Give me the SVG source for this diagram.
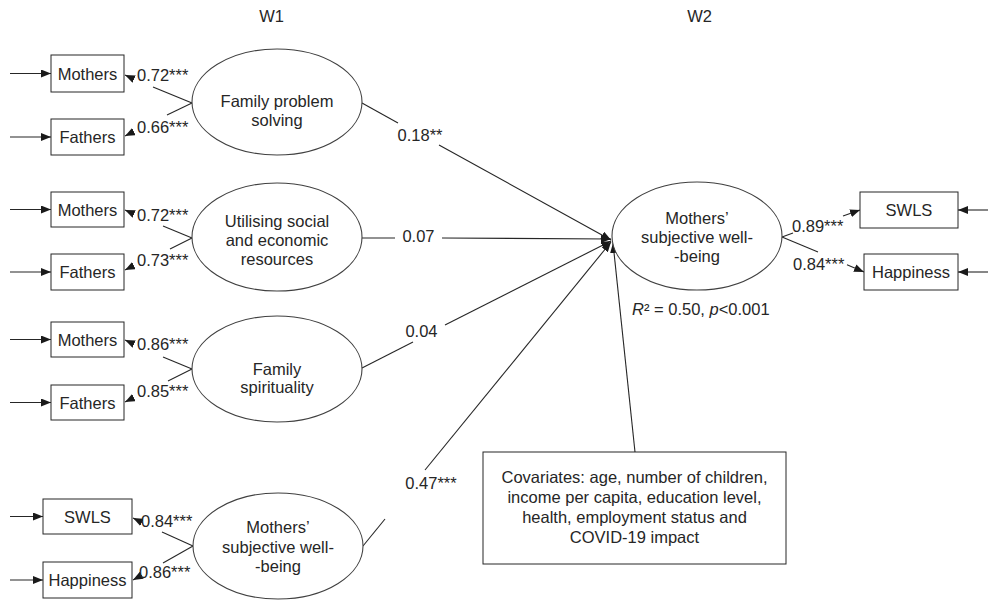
<svg xmlns="http://www.w3.org/2000/svg" width="988" height="600" viewBox="0 0 988 600">
<style>
text{font-family:"Liberation Sans",Arial,sans-serif;font-size:16.5px;fill:#262626}
.c{text-anchor:middle}
.box{fill:#fff;stroke:#262626;stroke-width:1}
.ell{fill:#fff;stroke:#404040;stroke-width:1.1}
.ln{stroke:#262626;stroke-width:1.1;fill:none}
.ar{stroke:#262626;stroke-width:1.1;fill:none;marker-end:url(#ah)}
</style>
<defs>
<marker id="ah" markerUnits="userSpaceOnUse" markerWidth="10" markerHeight="8" refX="10" refY="4" orient="auto">
<path d="M0,0 L10,4 L0,8 z" fill="#1a1a1a"/>
</marker>
</defs>
<rect width="988" height="600" fill="#fff"/>
<text class="c" x="271.5" y="22">W1</text>
<text class="c" x="699.5" y="22">W2</text>

<g id="connectors">
<line class="ar" x1="10" y1="73.5" x2="51" y2="73.5"/>
<line class="ar" x1="10" y1="137" x2="51" y2="137"/>
<line class="ar" x1="10" y1="209.5" x2="51" y2="209.5"/>
<line class="ar" x1="10" y1="272" x2="51" y2="272"/>
<line class="ar" x1="10" y1="339.5" x2="51" y2="339.5"/>
<line class="ar" x1="10" y1="402.5" x2="51" y2="402.5"/>
<line class="ar" x1="10" y1="516.5" x2="43" y2="516.5"/>
<line class="ar" x1="10" y1="580" x2="43" y2="580"/>
<line class="ar" x1="988" y1="210" x2="958" y2="210"/>
<line class="ar" x1="988" y1="272" x2="958" y2="272"/>
<line class="ln" x1="192" y1="103" x2="153" y2="87"/>
<line class="ar" x1="134" y1="79" x2="125" y2="75"/>
<line class="ln" x1="192" y1="103" x2="167" y2="115"/>
<line class="ar" x1="133" y1="132" x2="125" y2="136"/>
<line class="ln" x1="192" y1="238" x2="163" y2="226"/>
<line class="ar" x1="133" y1="213.5" x2="125" y2="210"/>
<line class="ln" x1="192" y1="238" x2="170" y2="249"/>
<line class="ar" x1="133" y1="266" x2="125" y2="270"/>
<line class="ln" x1="192" y1="369" x2="163" y2="357"/>
<line class="ar" x1="133" y1="343.6" x2="125" y2="340"/>
<line class="ln" x1="192" y1="369" x2="168" y2="381"/>
<line class="ar" x1="133" y1="398" x2="125" y2="402"/>
<line class="ln" x1="193" y1="546" x2="162" y2="532"/>
<line class="ar" x1="141" y1="521.8" x2="133" y2="518"/>
<line class="ln" x1="193" y1="546" x2="163" y2="563"/>
<line class="ar" x1="141" y1="575.6" x2="133" y2="580"/>
<text x="137" y="80.5">0.72***</text>
<text x="137" y="133">0.66***</text>
<text x="137" y="221">0.72***</text>
<text x="137" y="266">0.73***</text>
<text x="137" y="350">0.86***</text>
<text x="137" y="397">0.85***</text>
<text x="141" y="527">0.84***</text>
<text x="139" y="578">0.86***</text>
<line class="ln" x1="362" y1="103" x2="398" y2="123"/>
<line class="ar" x1="439" y1="145" x2="611" y2="240"/>
<text class="c" x="420" y="141">0.18**</text>
<line class="ln" x1="362" y1="238" x2="395" y2="238"/>
<line class="ar" x1="442" y1="238" x2="611" y2="239"/>
<text class="c" x="418.5" y="242">0.07</text>
<line class="ln" x1="362" y1="368" x2="413" y2="342"/>
<line class="ar" x1="445" y1="325" x2="611" y2="241"/>
<text class="c" x="421.5" y="337">0.04</text>
<line class="ln" x1="363" y1="546" x2="385" y2="519"/>
<line class="ar" x1="425" y1="470" x2="611" y2="242"/>
<text class="c" x="431" y="489">0.47***</text>
<line class="ar" x1="635" y1="452" x2="613" y2="243"/>
<line class="ln" x1="782" y1="237" x2="793" y2="233"/>
<line class="ar" x1="843" y1="216" x2="860" y2="210"/>
<text x="792" y="232">0.89***</text>
<line class="ln" x1="782" y1="237" x2="818" y2="252"/>
<line class="ar" x1="847" y1="264.7" x2="864" y2="272"/>
<text x="793" y="270">0.84***</text>
<text x="632" y="315"><tspan font-style="italic">R</tspan>² = 0.50, <tspan font-style="italic">p</tspan>&lt;0.001</text>
</g>

<g id="fps">
<ellipse class="ell" cx="277" cy="102" rx="85" ry="53"/>
<text class="c" x="277" y="107">Family problem</text>
<text class="c" x="277" y="126">solving</text>
</g>
<g id="fps_mothers"><rect class="box" x="51" y="55" width="73" height="37"/><text class="c" x="87.5" y="80">Mothers</text></g>
<g id="fps_fathers"><rect class="box" x="51" y="119" width="73" height="36"/><text class="c" x="87.5" y="143">Fathers</text></g>

<g id="use">
<ellipse class="ell" cx="277" cy="237" rx="85" ry="54"/>
<text class="c" x="277" y="227">Utilising social</text>
<text class="c" x="277" y="246">and economic</text>
<text class="c" x="277" y="265">resources</text>
</g>
<g id="use_mothers"><rect class="box" x="51" y="192" width="73" height="35"/><text class="c" x="87.5" y="215.5">Mothers</text></g>
<g id="use_fathers"><rect class="box" x="51" y="254" width="73" height="36"/><text class="c" x="87.5" y="278">Fathers</text></g>

<g id="spi">
<ellipse class="ell" cx="277" cy="369" rx="85" ry="53"/>
<text class="c" x="277" y="375">Family</text>
<text class="c" x="277" y="393">spirituality</text>
</g>
<g id="spi_mothers"><rect class="box" x="51" y="322" width="73" height="35"/><text class="c" x="87.5" y="345.5">Mothers</text></g>
<g id="spi_fathers"><rect class="box" x="51" y="385" width="73" height="35"/><text class="c" x="87.5" y="408.5">Fathers</text></g>

<g id="swb1">
<ellipse class="ell" cx="278" cy="546" rx="85" ry="53"/>
<text class="c" x="278" y="533">Mothers’</text>
<text class="c" x="278" y="553">subjective well-</text>
<text class="c" x="278" y="572">-being</text>
</g>
<g id="swb1_swls"><rect class="box" x="43" y="499" width="89" height="35"/><text class="c" x="87.5" y="522.5">SWLS</text></g>
<g id="swb1_happiness"><rect class="box" x="43" y="562" width="89" height="36"/><text class="c" x="87.5" y="586">Happiness</text></g>

<g id="swb2">
<ellipse class="ell" cx="697" cy="236" rx="85" ry="54"/>
<text class="c" x="697" y="224">Mothers’</text>
<text class="c" x="697" y="243">subjective well-</text>
<text class="c" x="697" y="262">-being</text>
</g>
<g id="swb2_swls"><rect class="box" x="860" y="192" width="98" height="36"/><text class="c" x="909" y="216">SWLS</text></g>
<g id="swb2_happiness"><rect class="box" x="864" y="254" width="94" height="36"/><text class="c" x="911" y="278">Happiness</text></g>

<g id="covariates">
<rect class="box" x="483" y="452" width="303" height="112"/>
<text class="c" x="634.5" y="483">Covariates: age, number of children,</text>
<text class="c" x="634.5" y="503">income per capita, education level,</text>
<text class="c" x="634.5" y="523">health, employment status and</text>
<text class="c" x="634.5" y="543">COVID-19 impact</text>
</g>
</svg>
